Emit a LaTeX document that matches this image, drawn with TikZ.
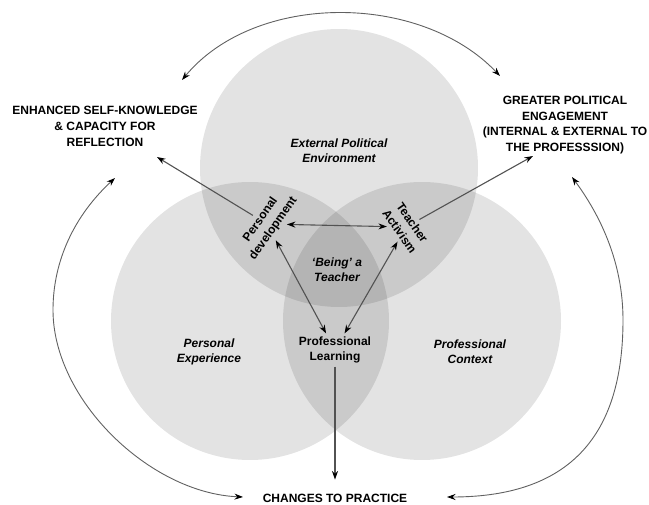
\documentclass[tikz,border=0pt]{standalone}
\usepackage{fontspec}
\setmainfont{Liberation Sans}
\usetikzlibrary{arrows.meta}

\begin{document}
\begin{tikzpicture}[x=1pt,y=-1pt,
		>={Stealth[length=8.5pt,width=6pt,color=black]},
		region/.style={fill=black, fill opacity=0.11},
		outcome/.style={align=center, font=\fontsize{12}{16}\selectfont\bfseries, inner sep=2pt},
		sphere/.style={align=center, font=\fontsize{12}{15}\selectfont\bfseries\itshape},
		theme/.style={align=center, font=\fontsize{12}{15.5}\selectfont\bfseries, inner sep=3pt},
		link/.style={draw=black!68, line width=1.1pt},
		loop/.style={draw=black!62, line width=0.9pt}]
		\useasboundingbox (0,0) rectangle (649,505);
		% the three spheres
		\fill[region] (339,168) circle (139pt);
		\fill[region] (250,321) circle (139pt);
		\fill[region] (422,321) circle (139pt);
		\node[sphere] (epe) at (339,151) {External Political\\ Environment};
		\node[sphere] (pex) at (209,352) {Personal\\ Experience};
		\node[sphere] (pcx) at (470,352) {Professional\\ Context};
		\node[sphere] (bat) at (337,270) {`Being' a\\ Teacher};
		% themes in the overlaps
		\node[theme, rotate=55] (pd) at (267,224) {Personal\\ development};
		\node[theme, rotate=-55] (ta) at (406,227) {Teacher\\ Activism};
		\node[theme] (pl) at (335,350) {Professional\\ Learning};
		% outcomes
		\node[outcome] (enh) at (105,126) {ENHANCED SELF-KNOWLEDGE\\ \& CAPACITY FOR\\ REFLECTION};
		\node[outcome, font=\fontsize{12}{15.5}\selectfont\bfseries] (gpe) at (565,125) {GREATER POLITICAL\\ ENGAGEMENT\\ (INTERNAL \& EXTERNAL TO\\ THE PROFESSSION)};
		\node[outcome] (ctp) at (335,498) {CHANGES TO PRACTICE};
		\coordinate (enh-in) at (157,157);
		\coordinate (gpe-in) at (533,156);
		\draw[link, ->] (pd) -- (enh-in);
		\draw[link, ->] (ta) -- (gpe-in);
		\draw[link, <->] (pd) -- (ta);
		\draw[link, <->] (pd) -- (pl);
		\draw[link, <->] (ta) -- (pl);
		\draw[link, ->, shorten >=12pt] (pl) -- (ctp);
		% loops between the outcomes
		\coordinate (top-l) at (182,80);
		\coordinate (top-r) at (500,76);
		\coordinate (lft-t) at (115,178);
		\coordinate (lft-b) at (243,497);
		\coordinate (rgt-t) at (572,177);
		\coordinate (rgt-b) at (447,497);
		\draw[loop, <->] (top-l) .. controls (255,-8) and (420,-8) .. (top-r);
		\draw[loop, <->] (lft-t) .. controls (75,215) and (53,260) .. (53,310) .. controls (53,400) and (150,493) .. (lft-b);
		\draw[loop, <->] (rgt-t) .. controls (600,215) and (623,262) .. (623,320) .. controls (623,430) and (575,497) .. (rgt-b);
\end{tikzpicture}
\end{document}
